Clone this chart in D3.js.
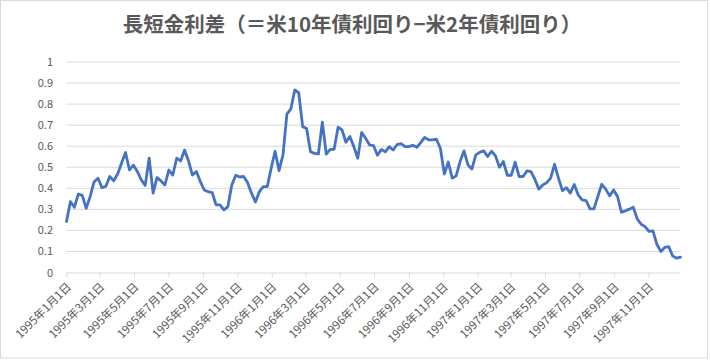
<!DOCTYPE html>
<html>
<head>
<meta charset="utf-8">
<script src="https://cdn.jsdelivr.net/npm/d3@7"></script>
<style>
  html, body { margin: 0; padding: 0; background: #fff; }
  svg { display: block; }
</style>
</head>
<body>
<svg id="chart" width="710" height="360"></svg>
<script>
// ---- data ----
const titleText = "長短金利差（＝米10年債利回り−米2年債利回り）";
const startDate = "1995-01-01";   // first weekly observation
const stepDays = 7;               // weekly observations
const spreadValues = [
  0.242, 0.337, 0.310, 0.372, 0.366, 0.305, 0.360, 0.430, 0.448, 0.403,
  0.410, 0.456, 0.435, 0.468, 0.520, 0.570, 0.487, 0.510, 0.480, 0.440,
  0.414, 0.543, 0.377, 0.451, 0.435, 0.416, 0.487, 0.463, 0.543, 0.530,
  0.582, 0.530, 0.463, 0.480, 0.432, 0.392, 0.384, 0.380, 0.321, 0.321,
  0.297, 0.313, 0.416, 0.462, 0.454, 0.456, 0.427, 0.377, 0.335, 0.384,
  0.408, 0.408, 0.495, 0.576, 0.484, 0.559, 0.752, 0.777, 0.867, 0.854,
  0.693, 0.684, 0.574, 0.566, 0.563, 0.714, 0.562, 0.585, 0.585, 0.690,
  0.677, 0.619, 0.646, 0.598, 0.543, 0.665, 0.638, 0.606, 0.603, 0.557,
  0.585, 0.573, 0.598, 0.582, 0.608, 0.612, 0.598, 0.598, 0.604, 0.595,
  0.617, 0.642, 0.630, 0.630, 0.633, 0.589, 0.468, 0.525, 0.448, 0.459,
  0.527, 0.578, 0.511, 0.492, 0.559, 0.571, 0.578, 0.551, 0.576, 0.554,
  0.500, 0.527, 0.462, 0.462, 0.524, 0.456, 0.456, 0.483, 0.479, 0.443,
  0.396, 0.416, 0.427, 0.448, 0.514, 0.448, 0.389, 0.403, 0.377, 0.418,
  0.369, 0.345, 0.342, 0.302, 0.302, 0.361, 0.419, 0.396, 0.364, 0.392,
  0.361, 0.286, 0.293, 0.301, 0.310, 0.255, 0.229, 0.218, 0.195, 0.198,
  0.134, 0.100, 0.119, 0.123, 0.079, 0.068, 0.073
];
const xTickDates = [
  "1995-01-01","1995-03-01","1995-05-01","1995-07-01","1995-09-01","1995-11-01",
  "1996-01-01","1996-03-01","1996-05-01","1996-07-01","1996-09-01","1996-11-01",
  "1997-01-01","1997-03-01","1997-05-01","1997-07-01","1997-09-01","1997-11-01"
];
const yTicks = [0, 0.1, 0.2, 0.3, 0.4, 0.5, 0.6, 0.7, 0.8, 0.9, 1];

// ---- build ----
(function () {
const parse = d3.utcParse("%Y-%m-%d");
const start = parse(startDate);
const data = spreadValues.map((v, i) => ({ date: d3.utcDay.offset(start, i * stepDays), value: v }));
const fmt = d3.utcFormat("%Y年%-m月%-d日");

const svg = d3.select("#chart");
const mLeft = 66.5, mRight = 680.5, mTop = 62, mBottom = 272.5;

svg.append("rect").attr("x", 0.5).attr("y", 0.5).attr("width", 707).attr("height", 357.5)
  .attr("fill", "#fff").attr("stroke", "#d9d9d9").attr("stroke-width", 1);

const x = d3.scaleUtc().domain(d3.extent(data, d => d.date)).range([mLeft, mRight]);
const y = d3.scaleLinear().domain([0, 1]).range([mBottom, mTop]);

const font = "'Noto Sans CJK JP', 'Noto Sans', sans-serif";

// gridlines
svg.append("g").selectAll("line").data(yTicks.filter(t => t > 0)).join("line")
  .attr("x1", mLeft).attr("x2", mRight)
  .attr("y1", d => y(d)).attr("y2", d => y(d))
  .attr("stroke", "#d9d9d9").attr("stroke-width", 1);

// y axis labels
const yAxis = d3.axisLeft(y).tickValues(yTicks).tickFormat(d3.format("~g")).tickSize(0).tickPadding(13.5);
const gy = svg.append("g").attr("transform", `translate(${mLeft},0)`).call(yAxis);
gy.select(".domain").remove();
gy.selectAll("text").attr("fill", "#595959").style("font-family", font).style("font-size", "11px");

// x axis
const xAxis = d3.axisBottom(x).tickValues(xTickDates.map(parse)).tickFormat(fmt).tickSize(5).tickSizeOuter(0);
const gx = svg.append("g").attr("transform", `translate(0,${mBottom})`).call(xAxis);
gx.select(".domain").attr("stroke", "#d9d9d9").attr("d", `M${mLeft},0.5H${mRight}`);
gx.selectAll(".tick line").attr("stroke", "#d9d9d9");
gx.selectAll("text")
  .attr("fill", "#595959").style("font-family", font).style("font-size", "11.5px")
  .attr("text-anchor", "end").attr("dy", null).attr("y", 0)
  .attr("transform", "translate(5,15) rotate(-45)");

// line
const line = d3.line().x(d => x(d.date)).y(d => y(d.value));
svg.append("path").datum(data)
  .attr("d", line).attr("fill", "none")
  .attr("stroke", "#4472C4").attr("stroke-width", 2.8)
  .attr("stroke-linejoin", "round").attr("stroke-linecap", "round");

// title
svg.append("text").attr("x", 352).attr("y", 32).attr("text-anchor", "middle")
  .attr("fill", "#595959").style("font-family", font).style("font-size", "20.5px")
  .style("font-weight", "bold").text(titleText);
})();
</script>
</body>
</html>
